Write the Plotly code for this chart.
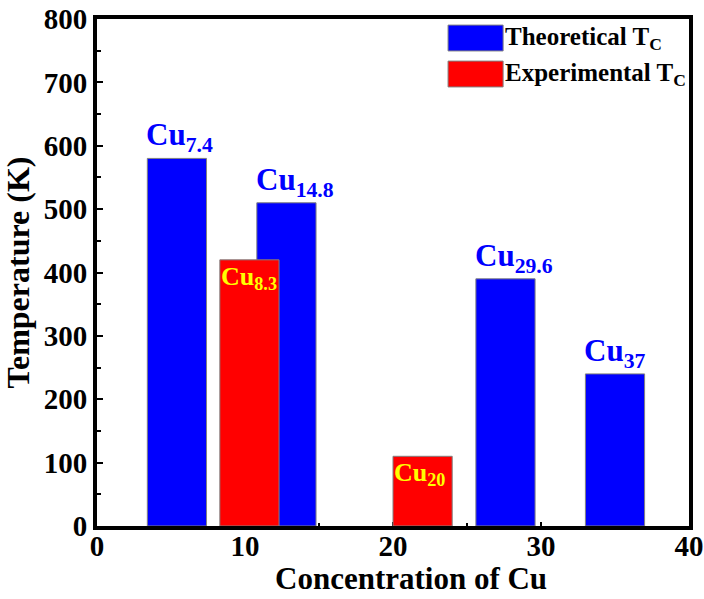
import plotly.graph_objects as go

# ---- data ----
theo_x = [7.4, 14.8, 29.6, 37]          # Cu concentration (bar right edge)
theo_y = [580, 510, 390, 240]           # Theoretical Tc (K)
theo_labels = ["7.4", "14.8", "29.6", "37"]

exp_x = [8.3, 20]                       # Cu concentration (bar left edge)
exp_y = [420, 110]                      # Experimental Tc (K)
exp_labels = ["8.3", "20"]

x_ticks = [0, 10, 20, 30, 40]
y_ticks = [0, 100, 200, 300, 400, 500, 600, 700, 800]

BAR_W = 4
FONT = "Liberation Serif, Times New Roman, serif"
BLUE = "#0000FF"
RED = "#FF0000"
YELLOW = "#FFFF00"

fig = go.Figure()
fig.add_trace(go.Bar(
    x=theo_x, y=theo_y, width=BAR_W, offset=-BAR_W,
    name="Theoretical T<sub>C</sub>",
    marker=dict(color=BLUE, line=dict(color="#808080", width=1)),
    showlegend=False,
))
fig.add_trace(go.Bar(
    x=exp_x, y=exp_y, width=BAR_W, offset=0,
    name="Experimental T<sub>C</sub>",
    marker=dict(color=RED, line=dict(color="#808080", width=1)),
    showlegend=False,
))

annotations = []
for xv, yv, lab in zip(theo_x, theo_y, theo_labels):
    annotations.append(dict(
        x=xv - BAR_W, y=yv, xref="x", yref="y",
        text=f"Cu<sub>{lab}</sub>", showarrow=False,
        xanchor="left", yanchor="bottom", xshift=-3, yshift=-1,
        font=dict(family=FONT, size=31, color=BLUE, weight="bold"),
    ))
for xv, yv, lab in zip(exp_x, exp_y, exp_labels):
    annotations.append(dict(
        x=xv, y=yv, xref="x", yref="y",
        text=f"Cu<sub>{lab}</sub>", showarrow=False,
        xanchor="left", yanchor="top", xshift=-1, yshift=0,
        font=dict(family=FONT, size=26, color=YELLOW, weight="bold"),
    ))

# manual legend (large swatches like the reference)
legend_items = [(fig.data[0].name, BLUE, 0.988, 0.937),
                (fig.data[1].name, RED, 0.917, 0.866)]
shapes = []
for name, col, y1, y0 in legend_items:
    shapes.append(dict(type="rect", xref="paper", yref="paper",
                       x0=0.593, x1=0.686, y0=y0, y1=y1,
                       fillcolor=col, line=dict(color="#808080", width=1)))
    annotations.append(dict(
        x=0.686, y=(y0 + y1) / 2, xref="paper", yref="paper",
        text=name, showarrow=False, xanchor="left", yanchor="middle",
        font=dict(family=FONT, size=25, color="black", weight="bold"),
    ))

# x-axis title (slightly right of centre as in the reference)
annotations.append(dict(
    x=0.53, y=-0.066, xref="paper", yref="paper",
    text="Concentration of Cu", showarrow=False,
    xanchor="center", yanchor="top",
    font=dict(family=FONT, size=31, color="black", weight="bold"),
))

fig.update_layout(
    width=704, height=599,
    margin=dict(l=97, r=15, t=19, b=73, autoexpand=False),
    paper_bgcolor="white", plot_bgcolor="white",
    barmode="overlay",
    showlegend=False,
    annotations=annotations,
    shapes=shapes,
    font=dict(family=FONT, color="black"),
)
fig.update_xaxes(
    range=[0, 40], tickvals=x_ticks, ticktext=[str(v) for v in x_ticks],
    ticks="inside", ticklen=4, tickwidth=2, tickcolor="black",
    minor=dict(dtick=5, ticks="inside", ticklen=3, tickwidth=2, tickcolor="black"),
    showline=True, linewidth=4, linecolor="black", mirror=True,
    showgrid=False, zeroline=False, layer="below traces", automargin=False,
    ticklabeloverflow="allow", ticklabelstandoff=-9,
    tickfont=dict(family=FONT, size=29, color="black", weight="bold"),
)
fig.update_yaxes(
    range=[0, 800], tickvals=y_ticks, ticktext=[str(v) for v in y_ticks],
    ticks="inside", ticklen=6, tickwidth=2, tickcolor="black",
    minor=dict(dtick=50, ticks="inside", ticklen=4, tickwidth=2, tickcolor="black"),
    showline=True, linewidth=4, linecolor="black", mirror=True,
    showgrid=False, zeroline=False, layer="below traces", automargin=False,
    ticklabeloverflow="allow",
    tickfont=dict(family=FONT, size=29, color="black", weight="bold"),
    title=dict(text="Temperature (K)", standoff=6,
               font=dict(family=FONT, size=32, color="black", weight="bold")),
)

fig.write_html("out.html")
